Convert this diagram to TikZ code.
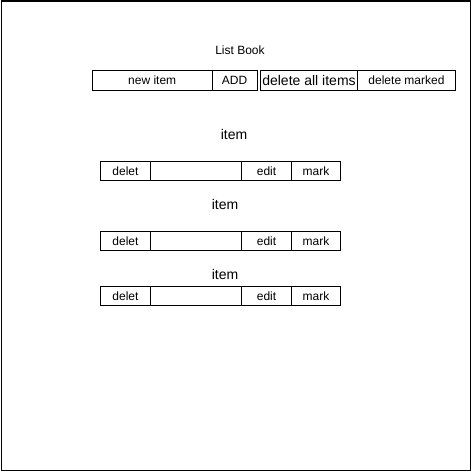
\documentclass[tikz,border=0pt]{standalone}
\usepackage{fontspec}
\setmainfont{Liberation Sans}
\begin{document}
\begin{tikzpicture}[x=1pt,y=-1pt,
  box/.style={draw=black,line width=1pt,inner sep=0pt,outer sep=0pt,anchor=north west,font=\fontsize{12}{13}\selectfont},
  lbl/.style={inner sep=0pt,font=\fontsize{14}{16}\selectfont}]
\useasboundingbox (0,0) rectangle (471,471);
\node[draw=black,line width=1pt,minimum width=469pt,minimum height=469pt,inner sep=0pt,anchor=north west] (frame) at (0.5,0.5) {};
\node[inner sep=0pt,font=\fontsize{12}{13}\selectfont] (title) at (240,50) {List Book};
% top row
\node[box,minimum width=119.5pt,minimum height=19.5pt] (new) at (92.5,70.5) {new item};
\node[box,minimum width=45pt,minimum height=19.5pt] (add) at (212,70.5) {ADD};
\node[box,minimum width=97pt,minimum height=19.5pt,font=\fontsize{14}{16}\selectfont] (delall) at (260.5,70.5) {delete all items};
\node[box,minimum width=98pt,minimum height=19.5pt] (delmark) at (357.5,70.5) {delete marked};
% items
\node[lbl] (i1) at (234,134) {item};
\node[lbl] (i2) at (225,204) {item};
\node[lbl] (i3) at (225,274) {item};
\foreach \n/\y in {a/161,b/231,c/286}{
  \node[box,minimum width=50pt,minimum height=19pt] (d\n) at (100.5,\y.5) {delet};
  \node[box,minimum width=91pt,minimum height=19pt] (t\n) at (150.5,\y.5) {};
  \node[box,minimum width=50pt,minimum height=19pt] (e\n) at (241.5,\y.5) {edit};
  \node[box,minimum width=49pt,minimum height=19pt] (m\n) at (291.5,\y.5) {mark};
}
\end{tikzpicture}
\end{document}
